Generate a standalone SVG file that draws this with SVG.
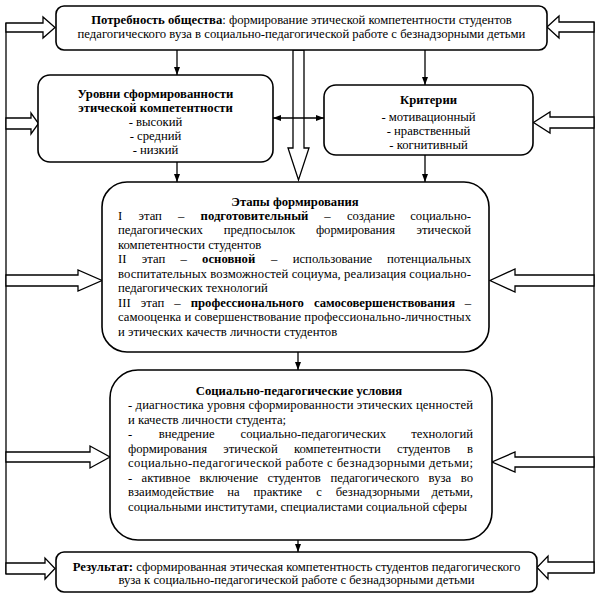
<svg xmlns="http://www.w3.org/2000/svg" width="600" height="599" viewBox="0 0 600 599">
<defs>
<style>
.t{font-family:"Liberation Serif","Times New Roman",serif;font-size:12.7px;fill:#000}
.b{font-weight:bold}
.m{text-anchor:middle}
.e{text-anchor:end}
.box{fill:#fff;stroke:#000;stroke-width:1.6}
.blk{fill:#fff;stroke:#000;stroke-width:1.3;stroke-linejoin:miter}
.ln{stroke:#000;stroke-width:1.3;fill:none}
</style>
<marker id="ah" viewBox="0 0 8 6" refX="8" refY="3" markerWidth="8" markerHeight="6" markerUnits="userSpaceOnUse" orient="auto-start-reverse">
<path d="M0,0 L8,3 L0,6 Z" fill="#000"/>
</marker>
</defs>
<rect width="600" height="599" fill="#fff"/>

<g id="connectors">
<line class="ln" x1="6" y1="23" x2="6" y2="574"/>
<line class="ln" x1="594" y1="22" x2="594" y2="573"/>
<path class="blk" d="M6,23 L43,23 L43,17 L55,27.5 L43,38 L43,32 L6,32 Z"/>
<path class="blk" d="M6,118 L31,118 L31,113 L38.5,123.5 L31,134 L31,129 L6,129 Z"/>
<path class="blk" d="M6,275 L78,275 L78,270 L102,280.5 L78,291 L78,286 L6,286 Z"/>
<path class="blk" d="M6,452 L90,452 L90,446 L110,457 L90,468 L90,462 L6,462 Z"/>
<path class="blk" d="M6,563 L45,563 L45,558 L55,568.5 L45,579 L45,574 L6,574 Z"/>
<path class="blk" d="M594,22 L559,22 L559,16 L547,27 L559,38 L559,32 L594,32 Z"/>
<path class="blk" d="M594,117 L550,117 L550,112 L533.5,122.5 L550,133 L550,128 L594,128 Z"/>
<path class="blk" d="M594,275 L515,275 L515,269 L490,280.5 L515,292 L515,286 L594,286 Z"/>
<path class="blk" d="M594,457 L515,457 L515,452 L492,462 L515,472 L515,467 L594,467 Z"/>
<path class="blk" d="M594,562 L548,562 L548,556 L537,567.5 L548,579 L548,573 L594,573 Z"/>
<path class="blk" d="M293,50 L293,148 L288,148 L298.5,180 L309,148 L304,148 L304,50 Z"/>
<line class="ln" x1="273" y1="118" x2="324" y2="118" marker-start="url(#ah)" marker-end="url(#ah)"/>
<line class="ln" x1="177" y1="50" x2="177" y2="75" marker-end="url(#ah)"/>
<line class="ln" x1="425" y1="50" x2="425" y2="85" marker-end="url(#ah)"/>
<line class="ln" x1="177" y1="162" x2="177" y2="182" marker-end="url(#ah)"/>
<line class="ln" x1="425" y1="155" x2="425" y2="182" marker-end="url(#ah)"/>
<line class="ln" x1="298" y1="352" x2="298" y2="370" marker-end="url(#ah)"/>
<line class="ln" x1="298" y1="540" x2="298" y2="552" marker-end="url(#ah)"/>
</g>

<g id="need">
<rect class="box" x="56" y="6" width="491" height="44" rx="8"/>
<text class="t m" x="301.5" y="23.5"><tspan class="b">Потребность общества</tspan>: формирование этической компетентности студентов</text>
<text class="t m" x="301.5" y="37.5">педагогического вуза в социально-педагогической работе с безнадзорными детьми</text>
</g>

<g id="levels">
<rect class="box" x="38" y="75" width="235" height="87" rx="12"/>
<text class="t m b" x="155.5" y="97.5">Уровни сформированности</text>
<text class="t m b" x="155.5" y="111.5">этической компетентности</text>
<text class="t m" x="155.5" y="125.5">- высокий</text>
<text class="t m" x="155.5" y="139.5">- средний</text>
<text class="t m" x="155.5" y="153.5">- низкий</text>
</g>

<g id="criteria">
<rect class="box" x="324" y="85" width="209" height="70" rx="12"/>
<text class="t m b" x="428.5" y="103.5">Критерии</text>
<text class="t m" x="428.5" y="120.5">- мотивационный</text>
<text class="t m" x="428.5" y="134.5">- нравственный</text>
<text class="t m" x="428.5" y="148.5">- когнитивный</text>
</g>

<g id="stages">
<rect class="box" x="102" y="182" width="387" height="170" rx="25"/>
<text class="t m b" x="295" y="205.5">Этапы формирования</text>
<text class="t" y="219.5"><tspan x="118">I</tspan><tspan x="138.5">этап</tspan><tspan x="178">–</tspan><tspan x="200.6" class="b">подготовительный</tspan><tspan x="324.3">–</tspan><tspan x="346.9">создание</tspan></text>
<text class="t e" x="471" y="219.5">социально-</text>
<text class="t" y="234"><tspan x="118">педагогических</tspan><tspan x="223.7">предпосылок</tspan><tspan x="315.9">формирования</tspan></text>
<text class="t e" x="471" y="234">этической</text>
<text class="t" x="118" y="248.5">компетентности студентов</text>
<text class="t" y="263"><tspan x="118">II</tspan><tspan x="141.8">этап</tspan><tspan x="180.4">–</tspan><tspan x="202.1" class="b">основной</tspan><tspan x="271">–</tspan><tspan x="292.7">использование</tspan></text>
<text class="t e" x="471" y="263">потенциальных</text>
<text class="t" x="118" y="277.5" textLength="353" lengthAdjust="spacing">воспитательных возможностей социума, реализация социально-</text>
<text class="t" x="118" y="292">педагогических технологий</text>
<text class="t" y="306.5"><tspan x="118">III</tspan><tspan x="140.8">этап</tspan><tspan x="174.2">–</tspan><tspan x="190.7" class="b">профессионального</tspan><tspan x="313.9" class="b">самосовершенствования</tspan></text>
<text class="t e" x="471" y="306.5">–</text>
<text class="t" x="118" y="321" textLength="353" lengthAdjust="spacing">самооценка и совершенствование профессионально-личностных</text>
<text class="t" x="118" y="335.5">и этических качеств личности студентов</text>
</g>

<g id="conditions">
<rect class="box" x="110" y="370" width="382" height="170" rx="28"/>
<text class="t m b" x="299" y="395">Социально-педагогические условия</text>
<text class="t" x="128" y="409" textLength="345" lengthAdjust="spacing">- диагностика уровня сформированности этических ценностей</text>
<text class="t" x="128" y="423.5">и качеств личности студента;</text>
<text class="t" y="438"><tspan x="128">-</tspan><tspan x="158.7">внедрение</tspan><tspan x="240.5">социально-педагогических</tspan></text>
<text class="t e" x="473" y="438">технологий</text>
<text class="t" y="452.5"><tspan x="128">формирования</tspan><tspan x="223.3">этической</tspan><tspan x="293.9">компетентности</tspan><tspan x="397">студентов</tspan></text>
<text class="t e" x="473" y="452.5">в</text>
<text class="t" x="128" y="467" textLength="345" lengthAdjust="spacing">социально-педагогической работе с безнадзорными детьми;</text>
<text class="t" y="481.5"><tspan x="128">-</tspan><tspan x="141.6">активное</tspan><tspan x="199.4">включение</tspan><tspan x="267.6">студентов</tspan><tspan x="330.5">педагогического</tspan><tspan x="428.6">вуза</tspan></text>
<text class="t e" x="473" y="481.5">во</text>
<text class="t" y="496"><tspan x="128">взаимодействие</tspan><tspan x="227.2">на</tspan><tspan x="253.5">практике</tspan><tspan x="316.2">с</tspan><tspan x="335.8">безнадзорными</tspan></text>
<text class="t e" x="473" y="496">детьми,</text>
<text class="t" x="128" y="510.5">социальными институтами, специалистами социальной сферы</text>
</g>

<g id="result">
<rect class="box" x="56" y="552" width="481" height="40" rx="8"/>
<text class="t m" x="296.5" y="570.5"><tspan class="b">Результат:</tspan> сформированная этическая компетентность студентов педагогического</text>
<text class="t m" x="296.5" y="584">вуза к социально-педагогической работе с безнадзорными детьми</text>
</g>
</svg>
